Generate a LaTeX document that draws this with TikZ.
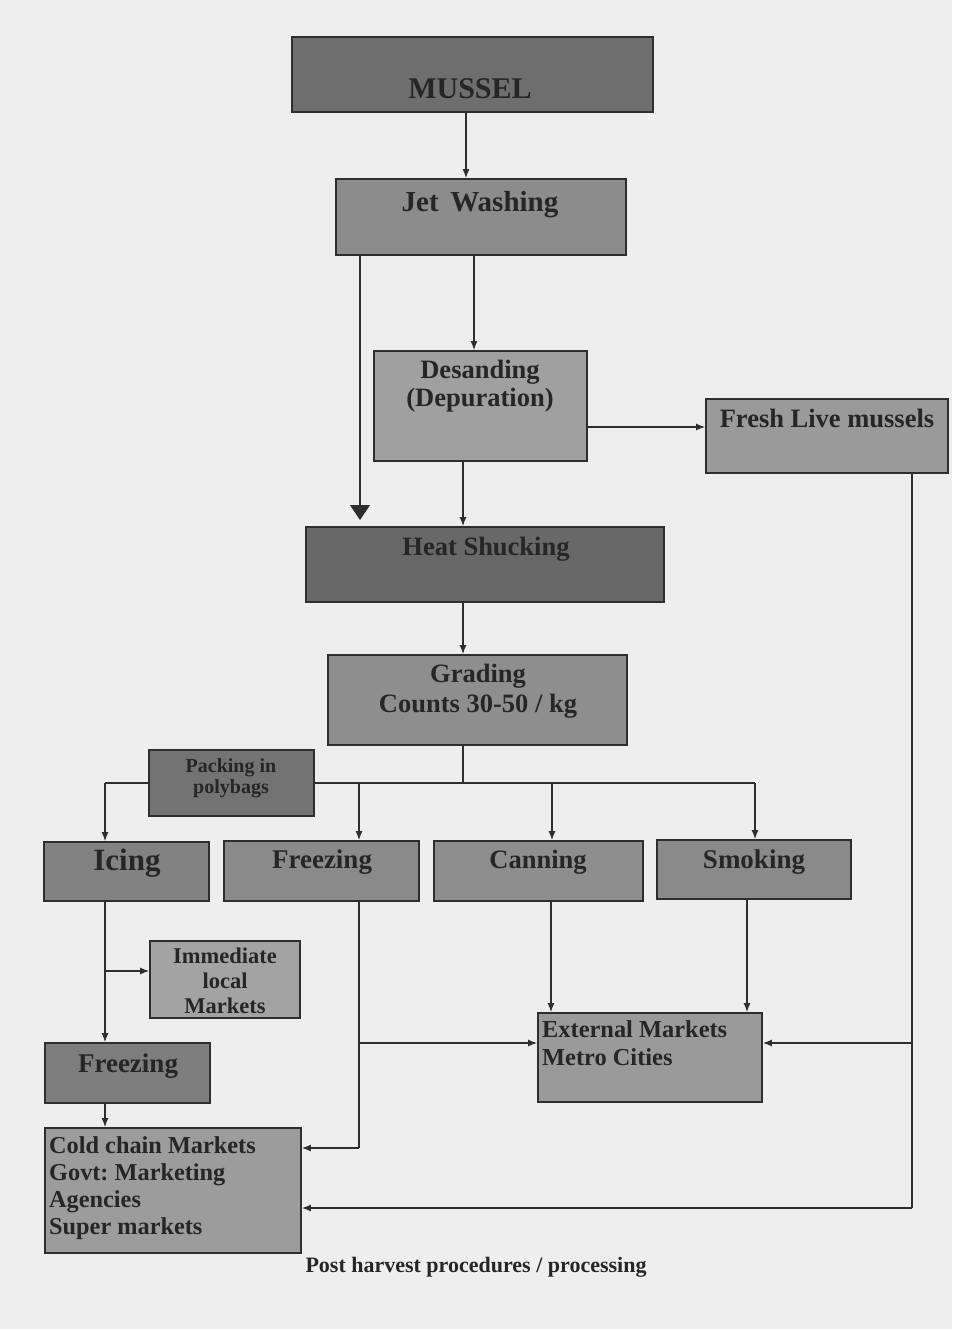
\documentclass[tikz,border=0pt]{standalone}
\usepackage{fontspec}
\setmainfont{Liberation Serif}
\usetikzlibrary{arrows.meta,calc}
\definecolor{bgc}{HTML}{EEEEEE}
\definecolor{linec}{HTML}{2E2E2E}
\definecolor{textc}{HTML}{262626}
\definecolor{cdark}{HTML}{6E6E6E}
\definecolor{cheat}{HTML}{686868}
\definecolor{cjet}{HTML}{8C8C8C}
\definecolor{cdes}{HTML}{A0A0A0}
\definecolor{cfresh}{HTML}{9A9A9A}
\definecolor{cgrad}{HTML}{8E8E8E}
\definecolor{cpack}{HTML}{737373}
\definecolor{cice}{HTML}{828282}
\definecolor{cmid}{HTML}{8A8A8A}
\definecolor{cimm}{HTML}{A3A3A3}
\definecolor{cfrl}{HTML}{7E7E7E}
\definecolor{ccold}{HTML}{9C9C9C}
\newcommand\setfs[1]{\fontsize{#1}{#1}\selectfont}
\begin{document}
\frenchspacing
\begin{tikzpicture}[x=1pt,y=-1pt,
  box/.style={draw=linec, line width=1.8pt, inner sep=0pt},
  txt/.style={inner sep=0pt, anchor=base, font=\bfseries, text=textc},
  ltxt/.style={inner sep=0pt, anchor=base west, font=\bfseries, text=textc},
  conn/.style={draw=linec, line width=1.3pt},
  arr/.style={conn, -{Latex[length=9pt,width=7pt]}},
  bigarr/.style={conn, -{Triangle[length=15pt,width=20pt]}}]
\fill[bgc] (0,0) rectangle (952,1329);
\useasboundingbox (0,0) rectangle (952,1329);

% column / row coordinates
\coordinate (xM) at (466,0);
\coordinate (xJ) at (360,0);
\coordinate (xD) at (474,0);
\coordinate (xC) at (463,0);
\coordinate (xI) at (105,0);
\coordinate (xF) at (359,0);
\coordinate (xCa) at (552,0);
\coordinate (xS) at (755,0);
\coordinate (xR) at (912,0);
\coordinate (busL) at (105,783);
\coordinate (busR) at (755,783);
\coordinate (jetEnd) at (360,520);
\coordinate (yImm) at (0,971);
\coordinate (yExt) at (0,1043);
\coordinate (yCold1) at (0,1148);
\coordinate (yCold2) at (0,1208);

% connectors drawn first (behind boxes)
\draw[conn] (busL) -- (busR);

% boxes
\node[box, fill=cdark, minimum width=361pt, minimum height=75pt] (mussel) at (472.5,74.5) {};
\node[box, fill=cjet, minimum width=290pt, minimum height=76pt] (jet) at (481,217) {};
\node[box, fill=cdes, minimum width=213pt, minimum height=110pt] (desand) at (480.5,406) {};
\node[box, fill=cfresh, minimum width=242pt, minimum height=74pt] (fresh) at (827,436) {};
\node[box, fill=cheat, minimum width=358pt, minimum height=75pt] (heat) at (485,564.5) {};
\node[box, fill=cgrad, minimum width=299pt, minimum height=90pt] (grading) at (477.5,700) {};
\node[box, fill=cpack, minimum width=165pt, minimum height=66pt] (packing) at (231.5,783) {};
\node[box, fill=cice, minimum width=165pt, minimum height=59pt] (icing) at (126.5,871.5) {};
\node[box, fill=cmid, minimum width=195pt, minimum height=60pt] (freezeM) at (321.5,871) {};
\node[box, fill=cgrad, minimum width=209pt, minimum height=60pt] (canning) at (538.5,871) {};
\node[box, fill=cmid, minimum width=194pt, minimum height=59pt] (smoking) at (754,869.5) {};
\node[box, fill=cimm, minimum width=150pt, minimum height=77pt] (immediate) at (225,979.5) {};
\node[box, fill=cfrl, minimum width=165pt, minimum height=60pt] (freezeL) at (127.5,1073) {};
\node[box, fill=ccold, minimum width=256pt, minimum height=125pt] (cold) at (173,1190.5) {};
\node[box, fill=cfresh, minimum width=224pt, minimum height=89pt] (external) at (650,1057.5) {};

% texts
\node[txt, font=\bfseries\setfs{30}] (tMussel) at (470,99) {MUSSEL};
\node[txt, font=\bfseries\setfs{29}] (tJet) at (480,212) {Jet\hspace{0.4em}Washing};
\node[txt, font=\bfseries\setfs{26.5}] (tDes1) at (480,378) {Desanding};
\node[txt, font=\bfseries\setfs{26.5}] (tDes2) at (480,406) {(Depuration)};
\node[txt, font=\bfseries\setfs{26.5}] (tFresh) at (827,427) {Fresh Live mussels};
\node[txt, font=\bfseries\setfs{26.5}] (tHeat) at (486,555) {Heat Shucking};
\node[txt, font=\bfseries\setfs{26.5}] (tGrad1) at (478,682) {Grading};
\node[txt, font=\bfseries\setfs{26.5}] (tGrad2) at (478,712) {Counts 30-50 / kg};
\node[txt, font=\bfseries\setfs{20}] (tPack1) at (231,772) {Packing in};
\node[txt, font=\bfseries\setfs{20}] (tPack2) at (231,793) {polybags};
\node[txt, font=\bfseries\setfs{31}] (tIcing) at (127,870) {Icing};
\node[txt, font=\bfseries\setfs{27}] (tFreezeM) at (322,868) {Freezing};
\node[txt, font=\bfseries\setfs{26.5}] (tCanning) at (538,868) {Canning};
\node[txt, font=\bfseries\setfs{27}] (tSmoking) at (754,868) {Smoking};
\node[txt, font=\bfseries\setfs{22.5}] (tImm1) at (225,963) {Immediate};
\node[txt, font=\bfseries\setfs{22.5}] (tImm2) at (225,988) {local};
\node[txt, font=\bfseries\setfs{22.5}] (tImm3) at (225,1013) {Markets};
\node[txt, font=\bfseries\setfs{27}] (tFreezeL) at (128,1072) {Freezing};
\node[ltxt, font=\bfseries\setfs{24.3}] (tCold1) at (49,1153) {Cold chain Markets};
\node[ltxt, font=\bfseries\setfs{24.3}] (tCold2) at (49,1180) {Govt: Marketing};
\node[ltxt, font=\bfseries\setfs{24.3}] (tCold3) at (49,1207) {Agencies};
\node[ltxt, font=\bfseries\setfs{24.3}] (tCold4) at (49,1234) {Super markets};
\node[ltxt, font=\bfseries\setfs{24.4}] (tExt1) at (542,1037) {External Markets};
\node[ltxt, font=\bfseries\setfs{24.4}] (tExt2) at (542,1065) {Metro Cities};
\node[txt, font=\bfseries\setfs{22}] (caption) at (476,1272) {Post harvest procedures / processing};

% main chain
\draw[arr] (mussel.south -| xM) -- (jet.north -| xM);
\draw[bigarr] (jet.south -| xJ) -- (jetEnd);
\draw[arr] (jet.south -| xD) -- (desand.north -| xD);
\draw[arr] (desand.east |- tFresh.base) ++(0,0) coordinate (dE) -- (fresh.west |- dE);
\draw[arr] (desand.south -| xC) -- (heat.north -| xC);
\draw[arr] (heat.south -| xC) -- (grading.north -| xC);
\draw[conn] (grading.south -| xC) -- (busL -| xC);

% branches from bus
\draw[arr] (busL) -- (icing.north -| xI);
\draw[arr] (busL -| xF) -- (freezeM.north -| xF);
\draw[arr] (busL -| xCa) -- (canning.north -| xCa);
\draw[arr] (busR) -- (smoking.north -| xS);

% lower left
\draw[arr] (icing.south -| xI) -- (freezeL.north -| xI);
\draw[arr] (yImm -| xI) -- (immediate.west |- yImm);
\draw[arr] (freezeL.south -| xI) -- (cold.north -| xI);

% middle freezing
\draw[conn] (freezeM.south -| xF) -- (yCold1 -| xF);
\draw[arr] (yCold1 -| xF) -- (cold.east |- yCold1);
\draw[arr] (yExt -| xF) -- (external.west |- yExt);

% canning and smoking to external
\coordinate (xCa2) at (551,0);
\coordinate (xS2) at (747,0);
\draw[arr] (canning.south -| xCa2) -- (external.north -| xCa2);
\draw[arr] (smoking.south -| xS2) -- (external.north -| xS2);

% right trunk from fresh live mussels
\draw[conn] (fresh.south -| xR) -- (yCold2 -| xR);
\draw[arr] (yExt -| xR) -- (external.east |- yExt);
\draw[arr] (yCold2 -| xR) -- (cold.east |- yCold2);
\end{tikzpicture}
\end{document}
